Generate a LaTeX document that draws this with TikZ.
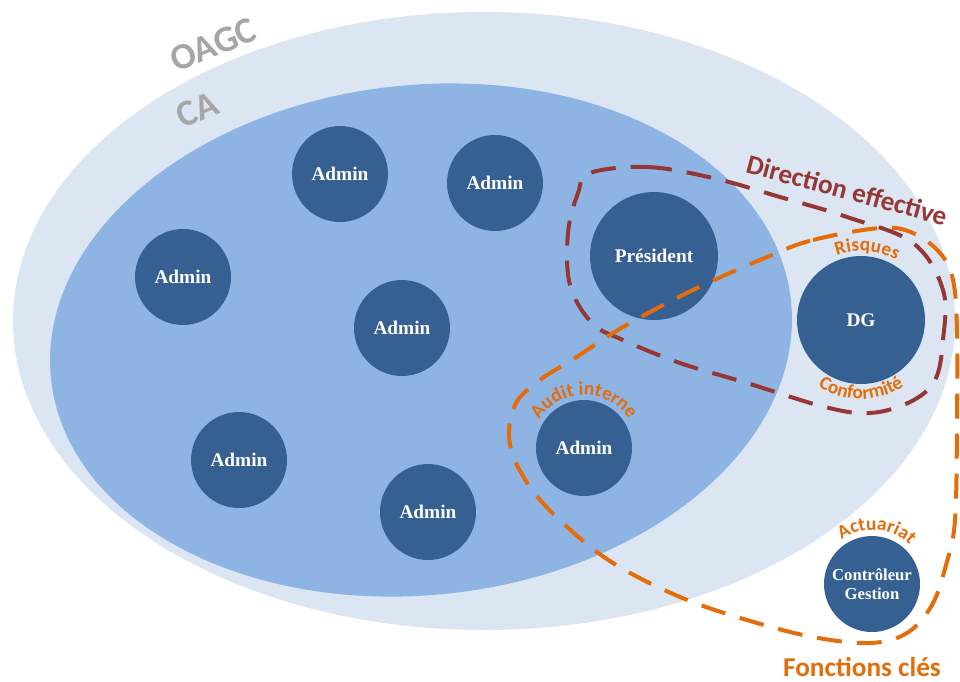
\documentclass[tikz,border=0pt]{standalone}
\usepackage{fontspec}
\setmainfont{Liberation Serif}
\newfontfamily\calib{Carlito}
\usepackage{xcolor}
\usetikzlibrary{calc}
\usetikzlibrary{decorations.text}
\definecolor{oagcblue}{HTML}{DCE6F2}
\definecolor{cablue}{HTML}{8EB4E3}
\definecolor{memberblue}{HTML}{366092}
\definecolor{dirred}{HTML}{953735}
\definecolor{fcorange}{HTML}{E46C0A}
\definecolor{lblgray}{HTML}{A6A6A6}
\tikzstyle{member} = [circle, fill=memberblue, text=white, inner sep=0pt,
font=\bfseries\fontsize{11}{12}\selectfont, minimum size=1.92cm, align=center]
\tikzstyle{bigmember} = [member, minimum size=2.56cm]
\tikzstyle{grouplabel} = [font=\calib\bfseries\fontsize{21}{21}\selectfont, text=lblgray]
\tikzstyle{fence} = [line width=0.08cm, dash pattern=on 0.5cm off 0.3cm]

\begin{document}
\begin{tikzpicture}[x=0.02cm, y=0.02cm,
		bannerlabel/.style={font=\calib\bfseries\fontsize{15.5}{15.5}\selectfont},
		arclabel/.style={decorate, decoration={text along path, text align=center,
			text={|\calib\bfseries\fontsize{11}{11}\selectfont\color{fcorange}|#1}}}]
		\useasboundingbox (0,0) rectangle (960,-681);
		%% Sets
		\fill[oagcblue] (484,-321) ellipse [x radius=471, y radius=309];
		\fill[cablue, rotate around={6:(421,-340)}] (421,-340) ellipse [x radius=372, y radius=255];
		\node [grouplabel, rotate=22] (oagc) at (213,-45) {OAGC};
		\node [grouplabel, rotate=22] (ca) at (197,-110) {CA};
		%% Members
		\node [member] (adm1) at (340,-174) {Admin};
		\node [member] (adm2) at (495,-183) {Admin};
		\node [member] (adm3) at (183,-277) {Admin};
		\node [member] (adm4) at (402,-328) {Admin};
		\node [member] (adm5) at (239,-460) {Admin};
		\node [member] (adm6) at (428,-512) {Admin};
		\node [bigmember] (pres) at (654,-256) {Président};
		\node [bigmember] (dg) at (861,-320) {DG};
		\node [member] (audit) at (584,-448) {Admin};
		\node [member, font=\bfseries\fontsize{9.5}{11}\selectfont] (ctrl) at (872,-584) {Contrôleur\\Gestion};
		%% Groups
		\draw [fence, dirred] plot [smooth cycle, tension=0.6] coordinates {(590,-173) (647,-167)
			(713,-178) (780,-197) (847,-217) (913,-243) (943,-290) (943,-340) (935,-380)
			(910,-402) (870,-413) (825,-407) (747,-383) (680,-363) (623,-340) (592,-323)
			(570,-285) (568,-233) (578,-193)};
		\draw [fence, fcorange] plot [smooth cycle, tension=0.6] coordinates {(767,-257)
			(813,-240) (880,-228) (913,-233) (940,-253) (953,-280) (957,-330) (957,-420)
			(955,-520) (946,-565) (932,-605) (907,-633) (870,-643) (813,-637) (747,-620)
			(680,-597) (613,-563) (565,-525) (530,-487) (510,-445) (515,-405) (540,-380)
			(575,-358) (623,-327) (693,-290)};
		\node [bannerlabel, text=dirred, rotate=-15] (dirlbl) at (847,-190) {Direction effective};
		\node [bannerlabel, text=fcorange, anchor=base, inner sep=1pt] (fclbl) at (862,-676) {Fonctions clés};
		%% Roles
		\path [arclabel=Risques] ($(dg)+(130:69)$) arc [start angle=130, end angle=40, radius=69];
		\path [arclabel=Conformité] ($(dg)+(210:79)$) arc [start angle=210, end angle=330, radius=79];
		\path [arclabel=Audit interne] ($(audit)+(175:53)$) arc [start angle=175, end angle=5, radius=53];
		\path [arclabel=Actuariat] ($(ctrl)+(165:54)$) arc [start angle=165, end angle=5, radius=54];
\end{tikzpicture}
\end{document}
